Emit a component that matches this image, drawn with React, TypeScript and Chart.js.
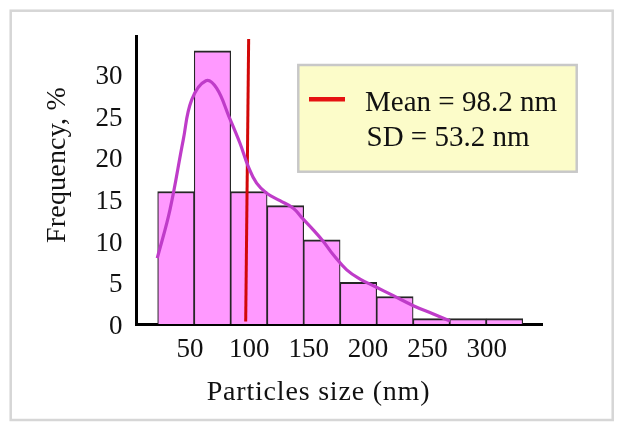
import { useEffect, useRef } from "react";
import { Chart, registerables } from "chart.js";

Chart.register(...registerables);

// ---- data ----
const binCenters = [38.1, 68.9, 99.6, 130.4, 161.1, 191.9, 222.6, 253.4, 284.1, 314.9];
const frequencies = [15.9, 32.8, 15.9, 14.2, 10.1, 5.0, 3.3, 0.64, 0.64, 0.64];

const curveSizes = [22.4, 33.1, 44.3, 51.4, 63.4, 72.4, 82.8, 92.1, 99.1, 106.1, 114.6, 125.8, 137, 144.6, 153.8, 162.3, 170.7, 182, 193.2, 205.8, 221.3, 238.1, 255, 269];
const curveFreq = [7.9, 13.7, 22.1, 26.9, 29.2, 28.3, 24.9, 21.7, 18.9, 16.9, 15.7, 14.8, 13.9, 12.7, 11.3, 9.9, 8.3, 6.5, 5.4, 4.5, 3.4, 2.2, 1.2, 0.35];

const meanLineSizes = [96.9, 99.4];
const meanLineFreq = [0.3, 34.2];

const xTickValues = [50, 100, 150, 200, 250, 300];
const yTickValues = [0, 5, 10, 15, 20, 25, 30];

const legendLines = ["Mean = 98.2 nm", "SD = 53.2 nm"];
const xTitle = "Particles size (nm)";
const yTitle = "Frequency, %";

const FONT = '"Liberation Serif", "Times New Roman", serif';

const decorPlugin = {
  id: "decor",
  beforeDraw(chart: any) {
    const ctx = chart.ctx as CanvasRenderingContext2D;
    ctx.save();
    ctx.fillStyle = "#ffffff";
    ctx.fillRect(0, 0, chart.width, chart.height);
    ctx.strokeStyle = "#d6d6d6";
    ctx.lineWidth = 2.5;
    ctx.strokeRect(10.7, 10.7, 602, 409.3);
    ctx.restore();
  },
  afterDraw(chart: any) {
    const ctx = chart.ctx as CanvasRenderingContext2D;
    ctx.save();
    // axis titles
    ctx.fillStyle = "#111111";
    ctx.font = `28px ${FONT}`;
    ctx.textAlign = "center";
    ctx.textBaseline = "alphabetic";
    (ctx as any).letterSpacing = "0.8px";
    ctx.fillText(xTitle, 318.5, 399.5);
    ctx.save();
    ctx.translate(65, 165);
    ctx.rotate(-Math.PI / 2);
    (ctx as any).letterSpacing = "0.2px";
    ctx.fillText(yTitle, 0, 0);
    ctx.restore();
    (ctx as any).letterSpacing = "0px";

    // legend box
    ctx.fillStyle = "#fcfcc9";
    ctx.fillRect(298.3, 65, 278.4, 106.7);
    ctx.strokeStyle = "#c8c8c8";
    ctx.lineWidth = 2.5;
    ctx.strokeRect(298.3, 65, 278.4, 106.7);
    ctx.strokeStyle = "#e51212";
    ctx.lineWidth = 4.5;
    ctx.beginPath();
    ctx.moveTo(309, 99.3);
    ctx.lineTo(345, 99.3);
    ctx.stroke();
    ctx.fillStyle = "#111111";
    ctx.font = `29px ${FONT}`;
    ctx.textAlign = "left";
    ctx.fillText(legendLines[0], 365, 110.5);
    ctx.fillText(legendLines[1], 366.5, 146);
    ctx.restore();
  },
};

export default function App() {
  const ref = useRef<HTMLCanvasElement>(null);

  useEffect(() => {
    if (!ref.current) return;
    const chart = new Chart(ref.current, {
      type: "bar",
      data: {
        datasets: [
          {
            type: "line",
            data: curveSizes.map((x, i) => ({ x, y: curveFreq[i] })),
            borderColor: "#bf3cc9",
            borderWidth: 3.2,
            pointRadius: 0,
            fill: false,
            tension: 0.4,
            order: 0,
            clip: false,
          } as any,
          {
            type: "line",
            data: meanLineSizes.map((x, i) => ({ x, y: meanLineFreq[i] })),
            borderColor: "#d20808",
            borderWidth: 3,
            pointRadius: 0,
            fill: false,
            order: 1,
            clip: false,
          } as any,
          {
            type: "bar",
            data: binCenters.map((x, i) => ({ x, y: frequencies[i] })),
            backgroundColor: "#ff99ff",
            borderColor: "#262626",
            borderWidth: { top: 2, left: 1.2, right: 1.2, bottom: 0 },
            borderSkipped: "start",
            barPercentage: 1,
            categoryPercentage: 1,
            order: 2,
          } as any,
        ],
      },
      options: {
        responsive: false,
        animation: false,
        layout: { padding: { left: 0, top: 36, right: 81, bottom: 0 } },
        plugins: {
          legend: { display: false },
          tooltip: { enabled: false },
          title: { display: false },
        },
        scales: {
          x: {
            type: "linear",
            min: 4.5,
            max: 346.5,
            offset: false,
            grid: { display: false, drawTicks: false },
            border: { display: true, color: "#000000", width: 3 },
            ticks: {
              color: "#111111",
              font: { family: FONT, size: 27 },
              padding: 10,
              autoSkip: false,
              maxRotation: 0,
            },
            afterBuildTicks: (s: any) => {
              s.ticks = xTickValues.map((v) => ({ value: v }));
            },
            afterFit: (s: any) => {
              s.height = 107;
            },
          },
          y: {
            type: "linear",
            min: 0,
            max: 34.57,
            grid: { display: false, drawTicks: false },
            border: { display: true, color: "#000000", width: 3 },
            ticks: {
              color: "#111111",
              font: { family: FONT, size: 27 },
              padding: 13.5,
              labelOffset: 3,
              autoSkip: false,
            },
            afterBuildTicks: (s: any) => {
              s.ticks = yTickValues.map((v) => ({ value: v }));
            },
            afterFit: (s: any) => {
              s.width = 136;
            },
          },
        },
      } as any,
      plugins: [decorPlugin],
    });
    return () => chart.destroy();
  }, []);

  return (
    <div style={{ position: "fixed", left: 0, top: 0, width: 623, height: 431, background: "#fff" }}>
      <canvas ref={ref} width={623} height={431} style={{ display: "block" }} />
    </div>
  );
}
